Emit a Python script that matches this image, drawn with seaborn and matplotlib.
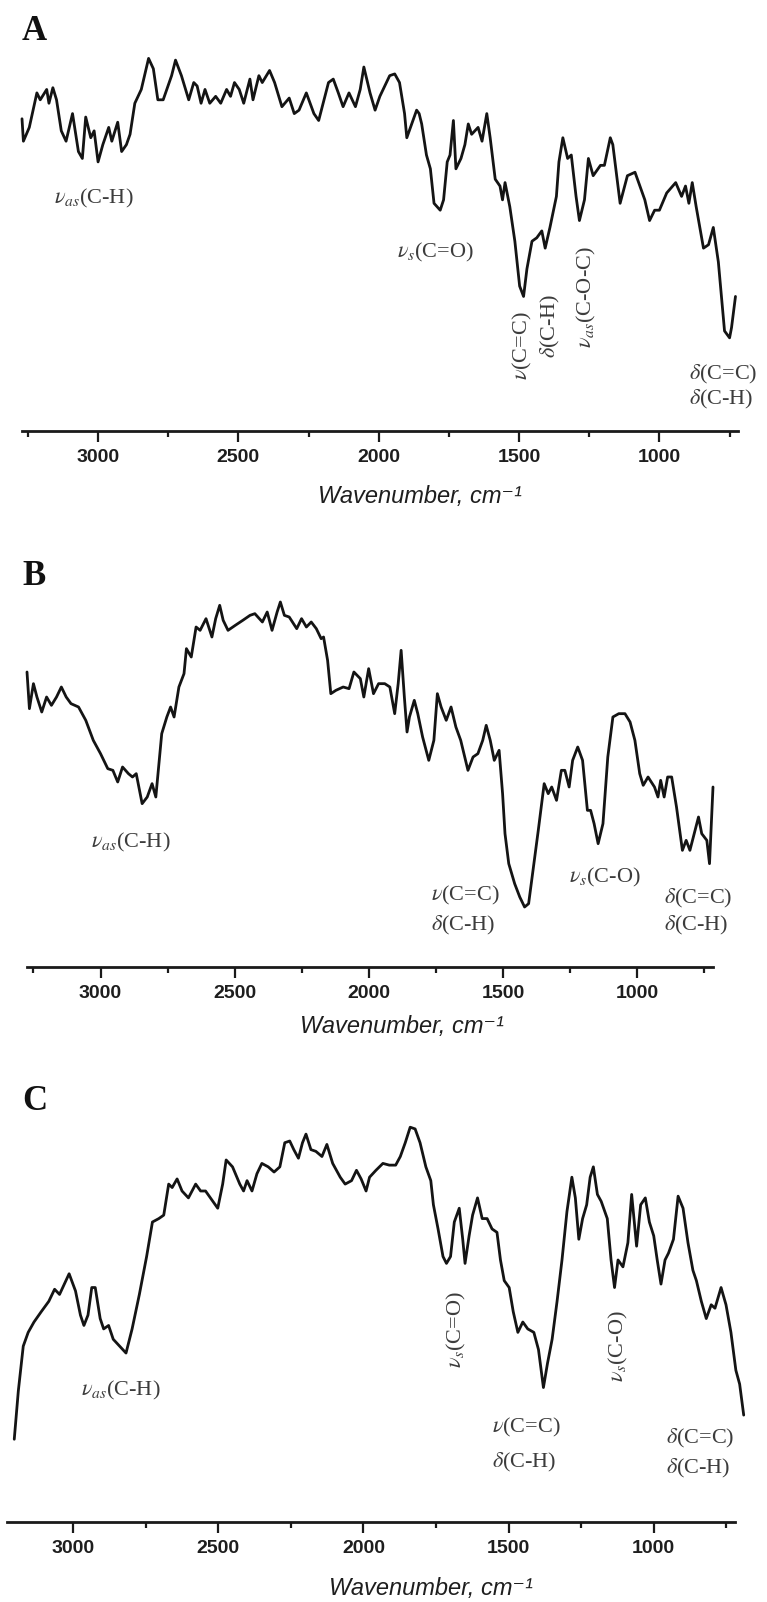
import matplotlib
matplotlib.use("Agg")
import matplotlib.pyplot as plt
from matplotlib.ticker import FixedLocator
import seaborn as sns

sns.set_theme(style="white")
plt.rcParams['font.family'] = ['Liberation Sans', 'DejaVu Sans']
plt.rcParams['mathtext.fontset'] = 'stix'

# Spectrum A (wavenumber, cm-1 / transmittance, a.u.)
wn_a = [3271, 3266, 3245, 3218, 3206, 3183, 3175, 3161, 3148, 3131, 3114, 3091, 3070, 3056, 3044,
        3026, 3014, 3000, 2983, 2962, 2951, 2930, 2916, 2899, 2886, 2869, 2846, 2820, 2803, 2787,
        2768, 2738, 2724, 2703, 2677, 2659, 2647, 2633, 2619, 2602, 2581, 2563, 2542, 2528, 2514,
        2497, 2481, 2459, 2448, 2427, 2415, 2389, 2371, 2345, 2319, 2301, 2284, 2258, 2231, 2214,
        2179, 2162, 2144, 2127, 2106, 2083, 2066, 2053, 2031, 2013, 1996, 1961, 1943, 1926, 1908,
        1900, 1865, 1856, 1847, 1830, 1816, 1803, 1781, 1769, 1756, 1746, 1734, 1725, 1707, 1693,
        1681, 1669, 1646, 1632, 1615, 1603, 1585, 1568, 1559, 1550, 1533, 1515, 1498, 1484, 1472,
        1454, 1437, 1419, 1407, 1390, 1367, 1358, 1344, 1327, 1314, 1297, 1285, 1267, 1253, 1236,
        1210, 1196, 1175, 1166, 1140, 1114, 1087, 1052, 1035, 1017, 1000, 974, 942, 921, 907,
        895, 883, 869, 843, 825, 808, 790, 768, 750, 743, 729]
t_a = [90.5, 84, 88, 98, 96, 99, 95, 99.5, 96, 87, 84, 92, 81, 79, 91,
       85, 87, 78, 83, 88, 84, 89.5, 81, 83, 86, 95, 99, 108, 105, 96,
       96, 103, 107.5, 103, 96, 101, 100, 95, 99, 95, 97, 95, 99, 97, 101,
       99, 95, 102, 96, 103, 101, 104.5, 101, 94, 96.5, 92, 93, 98, 92, 90,
       101, 102, 98, 94, 98, 94, 99, 105.5, 98, 93, 97, 103, 103.5, 101, 92,
       85, 93, 92, 89, 80, 76, 66, 64, 67, 78, 80, 90, 76, 79, 83,
       89, 86, 88, 84, 92, 85, 73, 71, 67, 72, 65, 55, 42, 39, 47,
       55, 56, 58, 53, 59, 68, 78, 85, 79, 80, 68, 61, 67, 79, 74,
       77, 77, 85, 83, 66, 74, 75, 67, 61, 64, 64, 69, 72, 68, 71,
       66, 72, 65, 53, 54, 59, 49, 29, 27, 30, 39]

# Spectrum B
wn_b = [3274, 3265, 3250, 3237, 3219, 3201, 3183, 3164, 3146, 3128, 3110, 3082, 3055, 3027, 3000,
        2973, 2954, 2936, 2918, 2896, 2881, 2867, 2845, 2826, 2808, 2794, 2772, 2753, 2739, 2726,
        2708, 2689, 2680, 2662, 2644, 2629, 2607, 2585, 2571, 2556, 2543, 2525, 2498, 2470, 2443,
        2425, 2397, 2379, 2361, 2342, 2330, 2315, 2297, 2269, 2251, 2233, 2215, 2196, 2178, 2169,
        2154, 2142, 2123, 2096, 2074, 2056, 2032, 2019, 2001, 1983, 1964, 1941, 1922, 1904, 1891,
        1880, 1868, 1858, 1849, 1831, 1818, 1800, 1777, 1758, 1745, 1731, 1712, 1694, 1676, 1658,
        1643, 1631, 1612, 1594, 1576, 1563, 1548, 1533, 1515, 1502, 1493, 1479, 1457, 1438, 1420,
        1405, 1387, 1369, 1347, 1332, 1319, 1301, 1283, 1270, 1254, 1241, 1222, 1204, 1186, 1174,
        1161, 1146, 1128, 1110, 1091, 1069, 1046, 1027, 1009, 991, 978, 960, 936, 923, 913,
        900, 887, 872, 854, 832, 818, 804, 785, 772, 760, 741, 731, 718]
t_b = [88.5, 77.5, 85, 81, 76.5, 81, 78.5, 81, 84, 81, 79, 78, 74, 68, 64,
       59.5, 59, 55.5, 60, 58, 57, 58, 49, 51, 55, 51, 70, 75, 78, 75,
       84, 88, 95.5, 93, 102, 101, 104.5, 99, 104.5, 108.5, 104, 101, 102.5, 104, 105.5,
       106, 103.5, 106.5, 101, 106.5, 109.5, 105.5, 105, 101.5, 104.5, 102, 103.5, 101.5, 98.5, 99,
       92, 82, 83, 84, 83.5, 88.5, 86.5, 81, 89.5, 82, 85, 85, 84, 76, 85,
       95, 81, 70.5, 75, 80, 76, 69, 62, 68, 82, 78, 74, 78, 72, 68,
       63, 59, 63, 64, 68, 72.5, 68, 62, 65, 52, 40, 31, 25, 21, 18,
       19, 30, 41, 55, 52, 54, 50, 59, 59, 54, 62, 66, 62, 47, 47,
       43, 37, 43, 63, 75, 76, 76, 73.5, 68, 58, 54.5, 57, 54, 51, 56,
       51, 57, 57, 48, 35, 38, 35, 41, 45, 40, 38, 31, 54]

# Spectrum C
wn_c = [3203, 3189, 3172, 3155, 3135, 3110, 3084, 3064, 3047, 3025, 3014, 2992, 2975, 2963, 2949,
        2936, 2924, 2907, 2895, 2878, 2862, 2840, 2818, 2797, 2772, 2747, 2727, 2705, 2688, 2671,
        2659, 2642, 2625, 2603, 2578, 2561, 2544, 2519, 2502, 2485, 2473, 2451, 2426, 2413, 2401,
        2384, 2367, 2350, 2328, 2308, 2288, 2271, 2254, 2240, 2224, 2210, 2198, 2181, 2164, 2143,
        2126, 2106, 2080, 2063, 2041, 2024, 2008, 1991, 1979, 1957, 1933, 1911, 1889, 1873, 1856,
        1839, 1822, 1805, 1785, 1768, 1759, 1743, 1726, 1714, 1700, 1687, 1670, 1658, 1650, 1636,
        1624, 1607, 1591, 1574, 1557, 1540, 1528, 1515, 1498, 1484, 1468, 1451, 1434, 1413, 1397,
        1380, 1366, 1350, 1333, 1316, 1299, 1282, 1270, 1258, 1245, 1231, 1219, 1208, 1194, 1181,
        1160, 1147, 1135, 1123, 1106, 1089, 1076, 1059, 1045, 1029, 1015, 1000, 988, 975, 961,
        949, 932, 916, 899, 882, 865, 853, 836, 819, 802, 789, 768, 751, 734, 717,
        704, 690]
t_c = [24, 38, 51, 55, 58, 61, 64, 67.5, 66, 70, 72, 67, 60, 57, 60,
       68, 68, 59, 56, 57, 53, 51, 49, 56, 66, 77, 87, 88, 89, 98,
       97, 99.5, 96, 94, 98, 96, 96, 93, 91, 98, 105, 103, 98, 96, 99,
       96, 101, 104, 103, 101.5, 103, 110, 110.5, 108, 105.5, 110, 112.5, 108, 107.5, 106,
       109.5, 104, 100, 98, 99, 102, 99.5, 96, 100, 102, 104, 103.5, 103.5, 106, 110,
       114.5, 114, 110, 103, 99, 92, 85, 77, 75, 77, 87, 91, 82, 75, 83,
       89, 94, 88, 88, 85, 84, 76, 70, 68, 61, 55, 58, 56, 55, 50,
       39, 46, 53, 64, 76, 90, 100, 94, 82, 88, 92, 100, 103, 95, 93,
       88, 76, 68, 76, 74, 81, 95, 80, 92, 94, 87, 83, 76, 69, 76,
       78, 82, 94.5, 91, 81, 73, 70, 64, 59, 63, 62, 68, 63, 55, 44,
       40, 31]

major_ticks = [3000, 2500, 2000, 1500, 1000]
minor_ticks = [3250, 2750, 2250, 1750, 1250, 750]

# band assignments: (text, wavenumber, transmittance, rotation)
labels_a = [(r"$\nu_{as}$(C-H)", 3157, 67.5, 0),
            (r"$\nu_{s}$(C=O)", 1935, 51.6, 0),
            (r"$\nu$(C=C)", 1489, 24.6, 90),
            (r"$\delta$(C-H)", 1389, 30.4, 90),
            (r"$\nu_{as}$(C-O-C)", 1261, 38.8, 90),
            (r"$\delta$(C=C)", 894, 16.5, 0),
            (r"$\delta$(C-H)", 894, 9, 0)]
labels_b = [(r"$\nu_{as}$(C-H)", 3035, 37.5, 0),
            (r"$\nu$(C=C)", 1769, 21.6, 0),
            (r"$\delta$(C-H)", 1769, 12.6, 0),
            (r"$\nu_{s}$(C-O)", 1255, 27, 0),
            (r"$\delta$(C=C)", 901, 20.7, 0),
            (r"$\delta$(C-H)", 901, 12.6, 0)]
labels_c = [(r"$\nu_{as}$(C-H)", 2974, 38, 0),
            (r"$\nu_{s}$(C=O)", 1680, 55.7, 90),
            (r"$\nu_{s}$(C-O)", 1122, 51, 90),
            (r"$\nu$(C=C)", 1556, 27.5, 0),
            (r"$\delta$(C-H)", 1556, 17.4, 0),
            (r"$\delta$(C=C)", 957, 24.3, 0),
            (r"$\delta$(C-H)", 957, 15.4, 0)]

W, H = 767, 1602
fig = plt.figure(figsize=(W / 100, H / 100), dpi=100)


def px_axes(left, right, top, bottom):
    return fig.add_axes([left / W, 1 - bottom / H, (right - left) / W, (bottom - top) / H])


def draw_panel(ax, wn, t, xlim, ylim, labels):
    sns.lineplot(x=wn, y=t, ax=ax, color="#141414", linewidth=2.0, sort=False,
                 estimator=None, clip_on=False)
    ax.set_xlim(*xlim)
    ax.set_ylim(*ylim)
    for s in ["top", "left", "right"]:
        ax.spines[s].set_visible(False)
    ax.spines["bottom"].set_linewidth(2.0)
    ax.spines["bottom"].set_color("#1a1a1a")
    ax.set_yticks([])
    ax.set_ylabel("")
    ax.xaxis.set_major_locator(FixedLocator(major_ticks))
    ax.xaxis.set_minor_locator(FixedLocator(minor_ticks))
    ax.tick_params(axis="x", which="major", direction="out", length=8, width=1.6,
                   color="#1a1a1a", bottom=True, pad=5, labelsize=14)
    ax.tick_params(axis="x", which="minor", direction="out", length=4, width=1.6,
                   color="#1a1a1a", bottom=True)
    for lab in ax.get_xticklabels():
        lab.set_fontweight("bold")
        lab.set_color("#1e1e1e")
    ax.set_xlabel("")
    ax.patch.set_alpha(0)
    for txt, x, y, rot in labels:
        ax.text(x, y, txt, rotation=rot, ha="center" if rot else "left", va="center",
                fontsize=16, color="#3c3c3c", family="Liberation Serif")


ax_a = px_axes(22, 738, 17, 431)
draw_panel(ax_a, wn_a, t_a, (3271, 720), (0, 120), labels_a)
ax_b = px_axes(27, 713, 567, 967)
draw_panel(ax_b, wn_b, t_b, (3274, 718), (0, 120), labels_b)
ax_c = px_axes(7, 735, 1091, 1522)
draw_panel(ax_c, wn_c, t_c, (3228, 720), (0, 125), labels_c)

# panel letters
for letter, y in [("A", 40), ("B", 585), ("C", 1110)]:
    fig.text(22 / W, 1 - y / H, letter, fontsize=25, fontweight="bold",
             family="Liberation Serif", color="#111111", va="baseline", ha="left")

# axis titles
for x, y in [(420, 497), (402, 1027), (431, 1588)]:
    fig.text(x / W, 1 - y / H, "Wavenumber, cm\u207b\u00b9", fontsize=17, style="italic",
             family=["Liberation Sans", "DejaVu Sans"], color="#1e1e1e",
             ha="center", va="center")

fig.savefig("out.png", dpi=100)
